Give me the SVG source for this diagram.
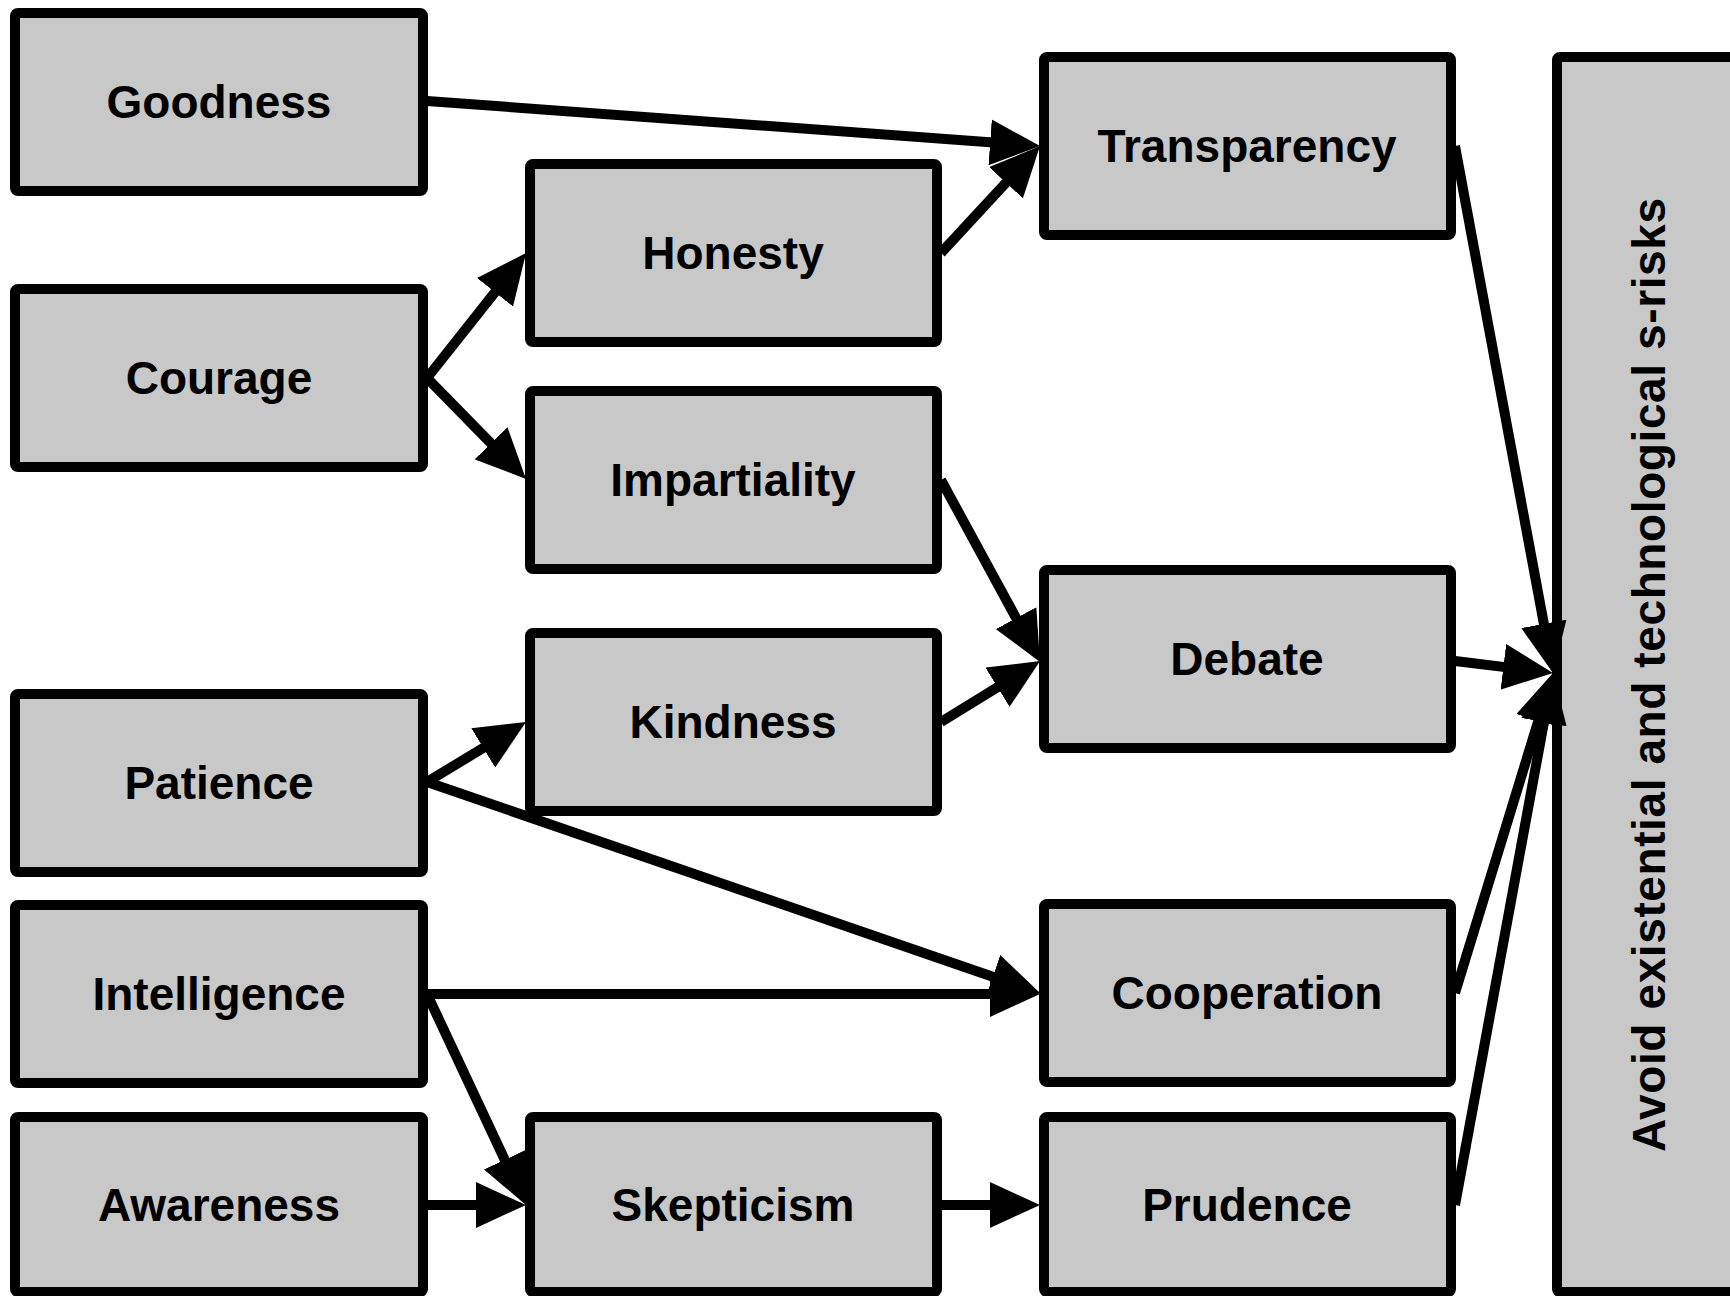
<svg xmlns="http://www.w3.org/2000/svg" width="1730" height="1296" viewBox="0 0 1730 1296">
<style>
.box{fill:#c8c8c8;stroke:#000;stroke-width:10;stroke-linejoin:round}
.lbl{font-family:"Liberation Sans",Arial,sans-serif;font-weight:bold;font-size:46px;fill:#000;text-anchor:middle}
.edge{stroke:#000;stroke-width:10;fill:none;marker-end:url(#ah)}
</style>
<defs>
<marker id="ah" markerUnits="userSpaceOnUse" markerWidth="50" markerHeight="46" viewBox="0 0 50 46" refX="10" refY="23" orient="auto">
<path d="M0,0 L50,23 L0,46 z" fill="#000"/>
</marker>
</defs>
<rect width="1730" height="1296" fill="#fff"/>
<g id="goodness"><rect class="box" x="15" y="13" width="408" height="178" rx="3"/><text class="lbl" x="219" y="118">Goodness</text></g>
<g id="courage"><rect class="box" x="15" y="289" width="408" height="178" rx="3"/><text class="lbl" x="219" y="394">Courage</text></g>
<g id="patience"><rect class="box" x="15" y="694" width="408" height="178" rx="3"/><text class="lbl" x="219" y="799">Patience</text></g>
<g id="intelligence"><rect class="box" x="15" y="905" width="408" height="178" rx="3"/><text class="lbl" x="219" y="1010">Intelligence</text></g>
<g id="awareness"><rect class="box" x="15" y="1117" width="408" height="175" rx="3"/><text class="lbl" x="219" y="1221">Awareness</text></g>
<g id="honesty"><rect class="box" x="530" y="164" width="407" height="178" rx="3"/><text class="lbl" x="733" y="269">Honesty</text></g>
<g id="impartiality"><rect class="box" x="530" y="391" width="407" height="178" rx="3"/><text class="lbl" x="733" y="496">Impartiality</text></g>
<g id="kindness"><rect class="box" x="530" y="633" width="407" height="178" rx="3"/><text class="lbl" x="733" y="738">Kindness</text></g>
<g id="skepticism"><rect class="box" x="530" y="1117" width="407" height="175" rx="3"/><text class="lbl" x="733" y="1221">Skepticism</text></g>
<g id="transparency"><rect class="box" x="1044" y="57" width="407" height="178" rx="3"/><text class="lbl" x="1247" y="162">Transparency</text></g>
<g id="debate"><rect class="box" x="1044" y="570" width="407" height="178" rx="3"/><text class="lbl" x="1247" y="675">Debate</text></g>
<g id="cooperation"><rect class="box" x="1044" y="904" width="407" height="178" rx="3"/><text class="lbl" x="1247" y="1009">Cooperation</text></g>
<g id="prudence"><rect class="box" x="1044" y="1117" width="407" height="175" rx="3"/><text class="lbl" x="1247" y="1221">Prudence</text></g>
<g id="avoid"><rect class="box" x="1557" y="57" width="220" height="1235" rx="3"/><text class="lbl" transform="translate(1665,675) rotate(-90)" x="0" y="0" textLength="954" lengthAdjust="spacing">Avoid existential and technological s-risks</text></g>
<g id="connectors">
<line class="edge" x1="427" y1="101" x2="1000.1" y2="143.1"/>
<line class="edge" x1="941" y1="253" x2="1012.8" y2="175.4"/>
<line class="edge" x1="427" y1="378" x2="501.2" y2="284.4"/>
<line class="edge" x1="427" y1="378" x2="498" y2="450.4"/>
<line class="edge" x1="941" y1="480" x2="1020.9" y2="626.9"/>
<line class="edge" x1="941" y1="722" x2="1006" y2="682"/>
<line class="edge" x1="427" y1="782" x2="491.8" y2="742.7"/>
<line class="edge" x1="427" y1="782" x2="1002.2" y2="980"/>
<line class="edge" x1="427" y1="994" x2="1000" y2="994"/>
<line class="edge" x1="427" y1="994" x2="509" y2="1168.8"/>
<line class="edge" x1="427" y1="1205" x2="486" y2="1205"/>
<line class="edge" x1="941" y1="1205" x2="1000" y2="1205"/>
<line class="edge" x1="1455" y1="146" x2="1545.7" y2="633.7"/>
<line class="edge" x1="1455" y1="661" x2="1513.3" y2="668.1"/>
<line class="edge" x1="1455" y1="993" x2="1541.3" y2="711.2"/>
<line class="edge" x1="1455" y1="1205" x2="1545.8" y2="712.3"/>
</g>
</svg>
